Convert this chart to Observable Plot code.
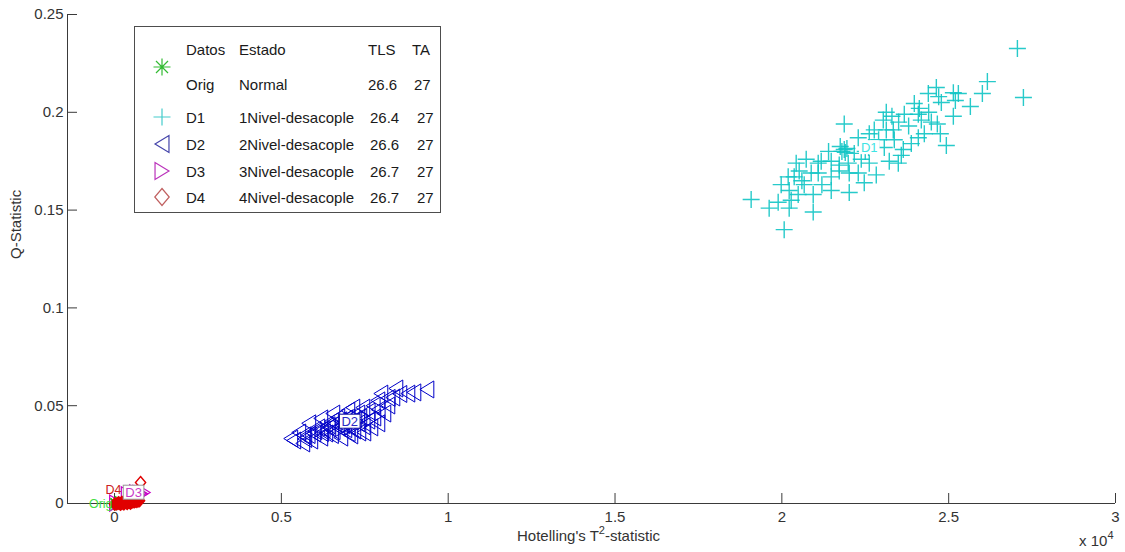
<!DOCTYPE html>
<html><head><meta charset="utf-8">
<script src="https://cdn.jsdelivr.net/npm/d3@7"></script>
<script src="https://cdn.jsdelivr.net/npm/@observablehq/plot@0.6"></script>
<style>
body{margin:0;background:#fff;font-family:"Liberation Sans",Arial,sans-serif;}
#wrap{position:relative;width:1125px;height:552px;overflow:hidden;}
#legend{position:absolute;left:134px;top:26px;width:305px;height:185px;border:1px solid #4d4d4d;background:#fff;font-size:15px;color:#1a1a1a;}
#legend span{position:absolute;white-space:nowrap;line-height:1;transform:translateY(-50%);}
#legend svg{position:absolute;overflow:visible;}
</style></head>
<body><div id="wrap"><div id="legend"></div></div>
<script>
// ---------- data ----------
const xTicks = [0, 5000, 10000, 15000, 20000, 25000, 30000];
const yTicks = [0, 0.05, 0.1, 0.15, 0.2, 0.25];
const xDomain = [-1410, 30000];
const yDomain = [0, 0.25];

const d1T2 = [27060,27240,26160,26010,25650,25140,25290,25140,24630,24390,24780,24660,24750,24930,24120,24090,23970,23670,24180,24480,24270,24090,23880,23640,23130,23040,23130,23340,22770,22620,23370,23070,23580,23220,23490,21870,22290,21870,22170,21990,22380,22620,21720,21480,21180,21090,20730,20430,20370,20190,20520,20880,21090,21480,21720,22020,22290,22470,22830,19980,20220,20490,20670,20940,21480,22020,19080,19620,19890,20280,20220,20940,20070,21800,21950,21750,21900,22500,22900,23500,23800,24400,25200,24700,21400,20600,21200,22600,23300];
const d1Q = [0.2326,0.2076,0.2157,0.2096,0.2030,0.2100,0.2096,0.1980,0.2127,0.2096,0.2050,0.1940,0.1890,0.1830,0.2020,0.1990,0.2045,0.1990,0.1960,0.1950,0.1890,0.1870,0.1840,0.1810,0.2000,0.1960,0.1910,0.1910,0.1910,0.1890,0.1860,0.1820,0.1780,0.1750,0.1740,0.1940,0.1870,0.1810,0.1790,0.1740,0.1760,0.1740,0.1730,0.1750,0.1750,0.1740,0.1760,0.1740,0.1670,0.1670,0.1700,0.1690,0.1690,0.1670,0.1700,0.1690,0.1690,0.1640,0.1680,0.1630,0.1600,0.1580,0.1630,0.1580,0.1600,0.1590,0.1554,0.1510,0.1540,0.1550,0.1510,0.1490,0.1400,0.1800,0.1815,0.1825,0.1795,0.1800,0.1860,0.1950,0.1930,0.2000,0.2060,0.2080,0.1800,0.1650,0.1630,0.1820,0.1980];

const d2T2 = [9360,8970,8790,8430,8340,7980,7890,8190,8070,7770,7680,7470,7320,7170,7080,7290,7440,7140,6930,6690,6540,6690,6420,6330,6090,5970,5820,5880,5670,5520,5370,5280,5640,6180,6780,7290,7590,7890,6990,6840,6180,6500,6600,6750,6900,7000,7100,7200,7350,6400,6250,6550,6900,7000,7450,7600,7750,7900,8200,8550,6000,5800,5700,6200,6500,7000];
const d2Q = [0.0583,0.0568,0.0562,0.0588,0.0542,0.0562,0.0527,0.0501,0.0460,0.0440,0.0389,0.0363,0.0363,0.0373,0.0348,0.0460,0.0490,0.0490,0.0435,0.0440,0.0460,0.0389,0.0389,0.0358,0.0389,0.0358,0.0410,0.0322,0.0348,0.0363,0.0322,0.0332,0.0307,0.0337,0.0337,0.0410,0.0424,0.0410,0.0475,0.0400,0.0435,0.0420,0.0410,0.0425,0.0415,0.0440,0.0420,0.0430,0.0440,0.0400,0.0380,0.0370,0.0380,0.0395,0.0395,0.0470,0.0500,0.0480,0.0540,0.0560,0.0370,0.0350,0.0330,0.0360,0.0350,0.0360];

const d3T2 = [870,800,700,600,500,400,750,650,550,50];
const d3Q = [0.0056,0.0050,0.0047,0.0046,0.0048,0.0045,0.0052,0.0055,0.0050,0.0002];

const d4T2 = [0,50,100,150,200,250,300,350,400,450,500,550,600,650,700,750,120,220,320,420,520,620,180,280,380,480,780];
const d4Q = [-0.0003,-0.0002,0.0000,0.0000,0.0001,0.0002,0.0003,0.0004,0.0005,0.0006,0.0007,0.0008,0.0009,0.0011,0.0012,0.0014,0.0004,0.0006,0.0008,0.0010,0.0011,0.0014,-0.0004,-0.0002,0.0000,0.0002,0.0107];

const origT2 = [20, 40, 10];
const origQ = [0.0001, 0.0002, 0.0000];

// cluster annotations
const annNames = ["D1", "D2", "D3", "D4", "Orig"];
const annT2 = [22620, 7050, 570, 210, -60];
const annQ = [0.182, 0.0419, 0.0056, 0.0069, -0.0001];

// legend table
const legDatos = ["Orig", "D1", "D2", "D3", "D4"];
const legEstado = ["Normal", "1Nivel-desacople", "2Nivel-desacople", "3Nivel-desacople", "4Nivel-desacople"];
const legTLS = ["26.6", "26.4", "26.6", "26.7", "26.7"];
const legTA = ["27", "27", "27", "27", "27"];
const legHeader = ["Datos", "Estado", "TLS", "TA"];

const xLabelParts = ["Hotelling's T", "2", "-statistic"];
const xExpParts = ["x 10", "4", ""];
const yLabel = "Q-Statistic";

// ---------- styles ----------
const colors = {Orig: "#00c800", D1: "#10c4c4", D2: "#0000c8", D3: "#c800c8", D4: "#e00000"};
const legColors = {Orig: "#33bb33", D1: "#44cccc", D2: "#4444aa", D3: "#bb33bb", D4: "#c06060"};
const labelColors = {D1: "#3ee4e4", D2: "#2b2bc4", D3: "#c83cc8", D4: "#cc2020", Orig: "#44dd44"};
const labelBox = {D1: "none", D2: "#1a1aa0", D3: "#999999"};

const rad = s => Math.sqrt(s / Math.PI);
const symbols = {
  plus: {draw(c, s) { const r = rad(s); c.moveTo(-r, 0); c.lineTo(r, 0); c.moveTo(0, -r); c.lineTo(0, r); }},
  triLeft: {draw(c, s) { const r = rad(s); c.moveTo(-0.82 * r, 0); c.lineTo(0.82 * r, -r); c.lineTo(0.82 * r, r); c.closePath(); }},
  triRight: {draw(c, s) { const r = rad(s); c.moveTo(0.82 * r, 0); c.lineTo(-0.82 * r, -r); c.lineTo(-0.82 * r, r); c.closePath(); }},
  diamond: {draw(c, s) { const r = rad(s); c.moveTo(0, -r); c.lineTo(0.85 * r, 0); c.lineTo(0, r); c.lineTo(-0.85 * r, 0); c.closePath(); }},
  asterisk: {draw(c, s) { const r = rad(s); const q = r * 0.7071;
    c.moveTo(-r, 0); c.lineTo(r, 0); c.moveTo(0, -r); c.lineTo(0, r);
    c.moveTo(-q, -q); c.lineTo(q, q); c.moveTo(-q, q); c.lineTo(q, -q); }}
};
const legSym = {Orig: "asterisk", D1: "plus", D2: "triLeft", D3: "triRight", D4: "diamond"};

function pathRecorder() {
  let s = "";
  return {
    moveTo(x, y) { s += `M${x},${y}`; },
    lineTo(x, y) { s += `L${x},${y}`; },
    closePath() { s += "Z"; },
    toString() { return s; }
  };
}

const toRows = (xs, ys) => xs.map((x, i) => ({t2: x, q: ys[i]}));
const orig = toRows(origT2, origQ);
const d1 = toRows(d1T2, d1Q);
const d2 = toRows(d2T2, d2Q);
const d3r = toRows(d3T2, d3Q);
const d4 = toRows(d4T2, d4Q);
const ann = annNames.map((n, i) => ({name: n, t2: annT2[i], q: annQ[i]}));
const annMid = ann.filter(d => d.name in labelBox);
const annEnd = ann.filter(d => !(d.name in labelBox));

const axisColor = "#3a3a3a";
const XLABEL_KEY = "__xlabel__", XEXP_KEY = "__xexp__";

const chart = Plot.plot({
  width: 1125, height: 552,
  marginLeft: 67, marginRight: 10, marginTop: 14, marginBottom: 49,
  x: {domain: xDomain},
  y: {domain: yDomain},
  style: {fontFamily: "'Liberation Sans', Arial, sans-serif", fontSize: "15px", color: "#333", background: "white", overflow: "visible"},
  marks: [
    Plot.ruleY([yDomain[0]], {stroke: axisColor}),
    Plot.ruleX([xDomain[0]], {stroke: axisColor}),
    Plot.axisX({ticks: xTicks, tickSize: -10, tickPadding: 18, stroke: axisColor, fontSize: 15, tickFormat: d => String(d / 1e4), label: null}),
    Plot.axisY({ticks: yTicks, tickSize: -10, tickPadding: 14, stroke: axisColor, fontSize: 15, tickFormat: d => String(+d.toFixed(2)), label: null}),
    Plot.text([yLabel], {text: d => d, frameAnchor: "left", dx: -51, rotate: -90, fill: "#333", fontSize: 15}),
    Plot.text([XLABEL_KEY], {text: d => d, frameAnchor: "bottom", dx: -3, dy: 37, fill: "#333", fontSize: 15}),
    Plot.text([XEXP_KEY], {text: d => d, frameAnchor: "bottom-right", textAnchor: "end", dx: -2, dy: 42, fill: "#333", fontSize: 15}),
    Plot.dot(orig, {x: "t2", y: "q", symbol: symbols.asterisk, r: 7, fill: "none", stroke: colors.Orig, strokeWidth: 1}),
    Plot.dot(d1, {x: "t2", y: "q", symbol: symbols.plus, r: 8.5, fill: "none", stroke: colors.D1, strokeWidth: 1.4, strokeOpacity: 0.9}),
    Plot.dot(d2, {x: "t2", y: "q", symbol: symbols.triLeft, r: 8.5, fill: "none", stroke: colors.D2, strokeWidth: 1}),
    Plot.dot(d3r, {x: "t2", y: "q", symbol: symbols.triRight, r: 8, fill: "none", stroke: colors.D3, strokeWidth: 1.2}),
    Plot.dot(d4, {x: "t2", y: "q", symbol: symbols.diamond, r: 6, fill: d => d.q > 0.005 ? "none" : colors.D4, stroke: colors.D4, strokeWidth: 1.4}),
    Plot.text(annMid, {x: "t2", y: "q", text: "name", fill: d => labelColors[d.name], fontSize: 13}),
    Plot.text(annEnd, {x: "t2", y: "q", text: "name", fill: d => labelColors[d.name], fontSize: 12.5, textAnchor: "end"})
  ]
});

const wrap = document.getElementById("wrap");
wrap.insertBefore(chart, wrap.firstChild);
const NS = "http://www.w3.org/2000/svg";
const allTexts = Array.from(chart.querySelectorAll("text"));

// label boxes
annMid.forEach(a => {
  const el = allTexts.find(t => t.textContent === a.name);
  if (!el) return;
  const bb = el.getBBox();
  const rect = document.createElementNS(NS, "rect");
  const tr = el.getAttribute("transform");
  if (tr) rect.setAttribute("transform", tr);
  rect.setAttribute("x", bb.x - 2);
  rect.setAttribute("y", bb.y + 0.5);
  rect.setAttribute("width", bb.width + 4);
  rect.setAttribute("height", bb.height - 1);
  rect.setAttribute("fill", "white");
  rect.setAttribute("stroke", labelBox[a.name]);
  rect.setAttribute("stroke-width", 1);
  el.parentNode.insertBefore(rect, el);
});

// superscripts
function superscript(key, parts) {
  const t = allTexts.find(el => el.textContent === key);
  if (!t) return;
  t.textContent = "";
  const a = document.createElementNS(NS, "tspan"); a.textContent = parts[0]; t.appendChild(a);
  const b = document.createElementNS(NS, "tspan"); b.setAttribute("dy", -7); b.setAttribute("font-size", 11); b.textContent = parts[1]; t.appendChild(b);
  if (parts[2]) { const c = document.createElementNS(NS, "tspan"); c.setAttribute("dy", 7); c.textContent = parts[2]; t.appendChild(c); }
}
superscript(XLABEL_KEY, xLabelParts);
superscript(XEXP_KEY, xExpParts);

// legend
const leg = document.getElementById("legend");
function span(x, y, txt) {
  const s = document.createElement("span");
  s.style.left = x + "px"; s.style.top = y + "px"; s.textContent = txt;
  leg.appendChild(s);
}
const hdrX = [51, 104, 233, 277];
legHeader.forEach((h, i) => span(hdrX[i], 22, h));
const rowY = [57, 90, 117, 144, 170];
const symY = [40, 90, 117, 144, 170];
const tlsX = [233, 235, 235, 235, 235];
const taX = [279, 282, 282, 282, 282];
legDatos.forEach((name, i) => {
  span(51, rowY[i], name);
  span(104, rowY[i], legEstado[i]);
  span(tlsX[i], rowY[i], legTLS[i]);
  span(taX[i], rowY[i], legTA[i]);
  const p = pathRecorder();
  symbols[legSym[name]].draw(p, Math.PI * 8.5 * 8.5);
  const svg = document.createElementNS(NS, "svg");
  svg.setAttribute("width", 1); svg.setAttribute("height", 1);
  svg.style.left = "27px"; svg.style.top = symY[i] + "px";
  const path = document.createElementNS(NS, "path");
  path.setAttribute("d", p.toString());
  path.setAttribute("fill", "none");
  path.setAttribute("stroke", legColors[name]);
  path.setAttribute("stroke-width", 1.2);
  svg.appendChild(path);
  leg.appendChild(svg);
});
</script>
</body></html>
